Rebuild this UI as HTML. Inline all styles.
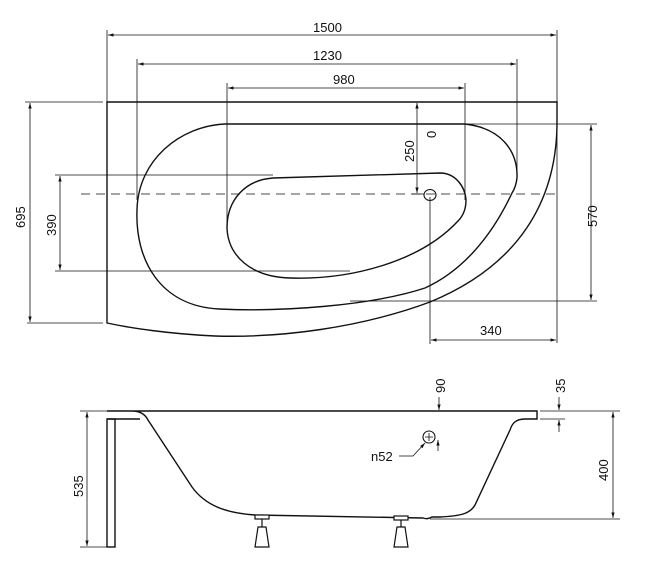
<!DOCTYPE html>
<html><head><meta charset="utf-8"><style>
html,body{margin:0;padding:0;background:#fff;}
svg{display:block;font-family:"Liberation Sans",sans-serif;}
text{font-size:13px;fill:#111;}
</style></head><body>
<svg width="654" height="568" viewBox="0 0 654 568" xmlns="http://www.w3.org/2000/svg">
<defs>
<marker id="a" viewBox="0 0 10 10" refX="10" refY="5" markerWidth="7" markerHeight="7" orient="auto-start-reverse"><path d="M0,2 L10,5 L0,8 z" fill="#111"/></marker>
</defs>
<g stroke="#111" fill="none" stroke-width="0.8">
<!-- extension lines top -->
<line x1="107" y1="30" x2="107" y2="102"/>
<line x1="557" y1="30" x2="557" y2="343"/>
<line x1="137" y1="59" x2="137" y2="200"/>
<line x1="517" y1="59" x2="517" y2="175"/>
<line x1="227" y1="83" x2="227" y2="232"/>
<line x1="465" y1="83" x2="465" y2="200"/>
<!-- dims -->
<line x1="108" y1="35" x2="556" y2="35" marker-start="url(#a)" marker-end="url(#a)"/>
<line x1="138" y1="64" x2="516" y2="64" marker-start="url(#a)" marker-end="url(#a)"/>
<line x1="228" y1="88" x2="464" y2="88" marker-start="url(#a)" marker-end="url(#a)"/>
<!-- 695 -->
<line x1="25" y1="102" x2="103" y2="102"/>
<line x1="27" y1="323" x2="103" y2="323"/>
<line x1="30" y1="103" x2="30" y2="322" marker-start="url(#a)" marker-end="url(#a)"/>
<!-- 390 -->
<line x1="55" y1="175" x2="273" y2="175"/>
<line x1="55" y1="271" x2="350" y2="271"/>
<line x1="60" y1="176" x2="60" y2="270" marker-start="url(#a)" marker-end="url(#a)"/>
<!-- 570 -->
<line x1="465" y1="124" x2="597" y2="124"/>
<line x1="350" y1="301" x2="597" y2="301"/>
<line x1="591" y1="125" x2="591" y2="300" marker-start="url(#a)" marker-end="url(#a)"/>
<!-- 340 -->
<line x1="430" y1="197" x2="430" y2="344"/>
<line x1="431" y1="340" x2="556" y2="340" marker-start="url(#a)" marker-end="url(#a)"/>
<!-- 250 -->
<line x1="417" y1="103" x2="417" y2="193" marker-start="url(#a)" marker-end="url(#a)"/>
<line x1="412" y1="194" x2="424" y2="194"/>
<!-- dashed center -->
<line x1="81" y1="194" x2="557" y2="194" stroke-dasharray="9,6"/>
</g>
<g stroke="#111" fill="none" stroke-width="1.4">
<!-- outer -->
<path d="M107,323 L107,102 L557,102 L557,125 C556,200 520,265 430,302 C360,328 280,338 215,336 C170,334 130,328 107,323 Z"/>
<!-- rim inner -->
<path d="M225,124 L465,124 C500,128 518,150 517,178 C516,186 514,190 512,193 C490,240 460,272 425,288 C370,306 280,312 219,309 C160,306 135,260 137,210 C138,160 180,126 225,124 Z"/>
<!-- basin -->
<path d="M273,178 L440,173 C455,173 465,186 466,200 C466,210 463,216 458,221 C420,262 350,280 290,278 C250,277 228,255 227,228 C227,200 245,180 273,178 Z"/>
<ellipse cx="430" cy="195" rx="6" ry="5.5" stroke-width="1.1"/>
</g>
<text x="313" y="32">1500</text>
<text x="313" y="60">1230</text>
<text x="333" y="84">980</text>
<text x="480" y="335">340</text>
<text transform="translate(414,162) rotate(-90)">250</text>
<text transform="translate(436,138) rotate(-90)">0</text>
<text transform="translate(25,228) rotate(-90)">695</text>
<text transform="translate(56,236) rotate(-90)">390</text>
<text transform="translate(597,227) rotate(-90)">570</text>

<!-- side view -->
<g stroke="#111" fill="none" stroke-width="0.8">
<line x1="80" y1="411" x2="107" y2="411"/>
<line x1="80" y1="547" x2="107" y2="547"/>
<line x1="87" y1="412" x2="87" y2="546" marker-start="url(#a)" marker-end="url(#a)"/>
<line x1="540" y1="411" x2="620" y2="411"/>
<line x1="430" y1="519" x2="620" y2="519"/>
<line x1="613" y1="412" x2="613" y2="518" marker-start="url(#a)" marker-end="url(#a)"/>
<line x1="439" y1="397" x2="439" y2="410" marker-end="url(#a)"/>
<line x1="559" y1="397" x2="559" y2="410" marker-end="url(#a)"/>
<line x1="559" y1="432" x2="559" y2="420" marker-end="url(#a)"/>
<line x1="540" y1="419" x2="565" y2="419"/>
<line x1="438" y1="451" x2="438" y2="440" marker-end="url(#a)"/>
<path d="M399,456 L413,456 L425,443" marker-end="url(#a)"/>
</g>
<g stroke="#111" fill="none" stroke-width="1.4">
<path d="M107,411 L537,411 L537,419 L525,419 C515,419 512,424 510,430 L475,505 C470,514 460,516 440,517 L432,517 C428,519 426,519 423,518 L255,515 C225,513 205,505 192,487 L148,420 C145,414 140,411 132,411"/>
<path d="M107,419 L140,419"/>
<rect x="107" y="419" width="8" height="128"/>
<circle cx="429" cy="437" r="6" stroke-width="1.1"/>
</g>
<path d="M429,433 V441 M425,437 H433" stroke="#111" stroke-width="0.8"/>
<g stroke="#111" fill="#fff" stroke-width="1.2">
<rect x="255" y="515" width="14" height="4"/>
<line x1="262" y1="519" x2="262" y2="527"/>
<path d="M258,527 L266,527 L269,547 L255,547 Z"/>
<rect x="394" y="516" width="14" height="4"/>
<line x1="401" y1="520" x2="401" y2="527"/>
<path d="M397,527 L405,527 L408,547 L394,547 Z"/>
</g>
<text x="371" y="461">n52</text>
<text transform="translate(83,497) rotate(-90)">535</text>
<text transform="translate(608,481) rotate(-90)">400</text>
<text transform="translate(445,393) rotate(-90)">90</text>
<text transform="translate(565,393) rotate(-90)">35</text>
</svg>
</body></html>
